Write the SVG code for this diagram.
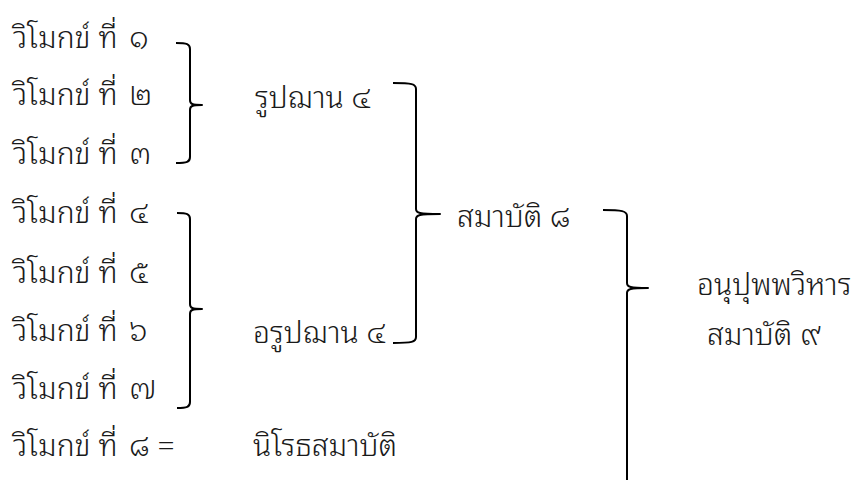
<svg xmlns="http://www.w3.org/2000/svg" width="853" height="480" viewBox="0 0 853 480">
<style>
text{font-family:"Noto Sans Thai Looped","Noto Sans Thai","Leelawadee UI","Tahoma","Noto Sans",sans-serif;font-size:30px;font-weight:300;fill:#1a1a1a}
.br{fill:none;stroke:#000;stroke-width:2;stroke-linejoin:round}
</style>
<rect width="853" height="480" fill="#fff"/>
<g id="rows">
<g id="v1"><text x="13" y="48">วิโมกข์ ที่ <tspan dx="4">๑</tspan></text></g>
<g id="v2"><text x="13" y="105">วิโมกข์ ที่ <tspan dx="4">๒</tspan></text></g>
<g id="v3"><text x="13" y="164">วิโมกข์ ที่ <tspan dx="4">๓</tspan></text></g>
<g id="v4"><text x="13" y="223">วิโมกข์ ที่ <tspan dx="4">๔</tspan></text></g>
<g id="v5"><text x="13" y="283">วิโมกข์ ที่ <tspan dx="4">๕</tspan></text></g>
<g id="v6"><text x="13" y="341">วิโมกข์ ที่ <tspan dx="4">๖</tspan></text></g>
<g id="v7"><text x="13" y="399">วิโมกข์ ที่ <tspan dx="4">๗</tspan></text></g>
<g id="v8"><text x="13" y="456">วิโมกข์ ที่ <tspan dx="4">๘ =</tspan></text></g>
</g>
<g id="rupa"><text x="255" y="108">รูปฌาน ๔</text></g>
<g id="arupa"><text x="253" y="343">อรูปฌาน ๔</text></g>
<g id="nirodha"><text x="253" y="456">นิโรธสมาบัติ</text></g>
<g id="samapatti8"><text x="457" y="227">สมาบัติ ๘</text></g>
<g id="anupubba"><text x="697" y="295">อนุปุพพวิหาร</text><text x="707" y="345">สมาบัติ ๙</text></g>
<g id="connectors">
<path class="br" d="M176 43 C187 43 190 44 190 49 L190 100 C190 104 192 105 202 105 C192 105 190 106 190 110 L190 157 C190 162 187 163 176 163"/>
<path class="br" d="M177 213 C187 213 190 214 190 219 L190 304 C190 308 192 309 202 309 C192 309 190 310 190 314 L190 402 C190 407 187 408 177 408"/>
<path class="br" d="M393 83 C412 83 416 84 416 89 L416 209 C416 213 419 214 440 214 C419 214 416 215 416 219 L416 337 C416 342 412 343 393 343"/>
<path class="br" d="M603 210 C622 210 627 211 627 216 L627 283 C627 287 630 288 648 288 C630 288 627 289 627 293 L627 480"/>
</g>
</svg>
